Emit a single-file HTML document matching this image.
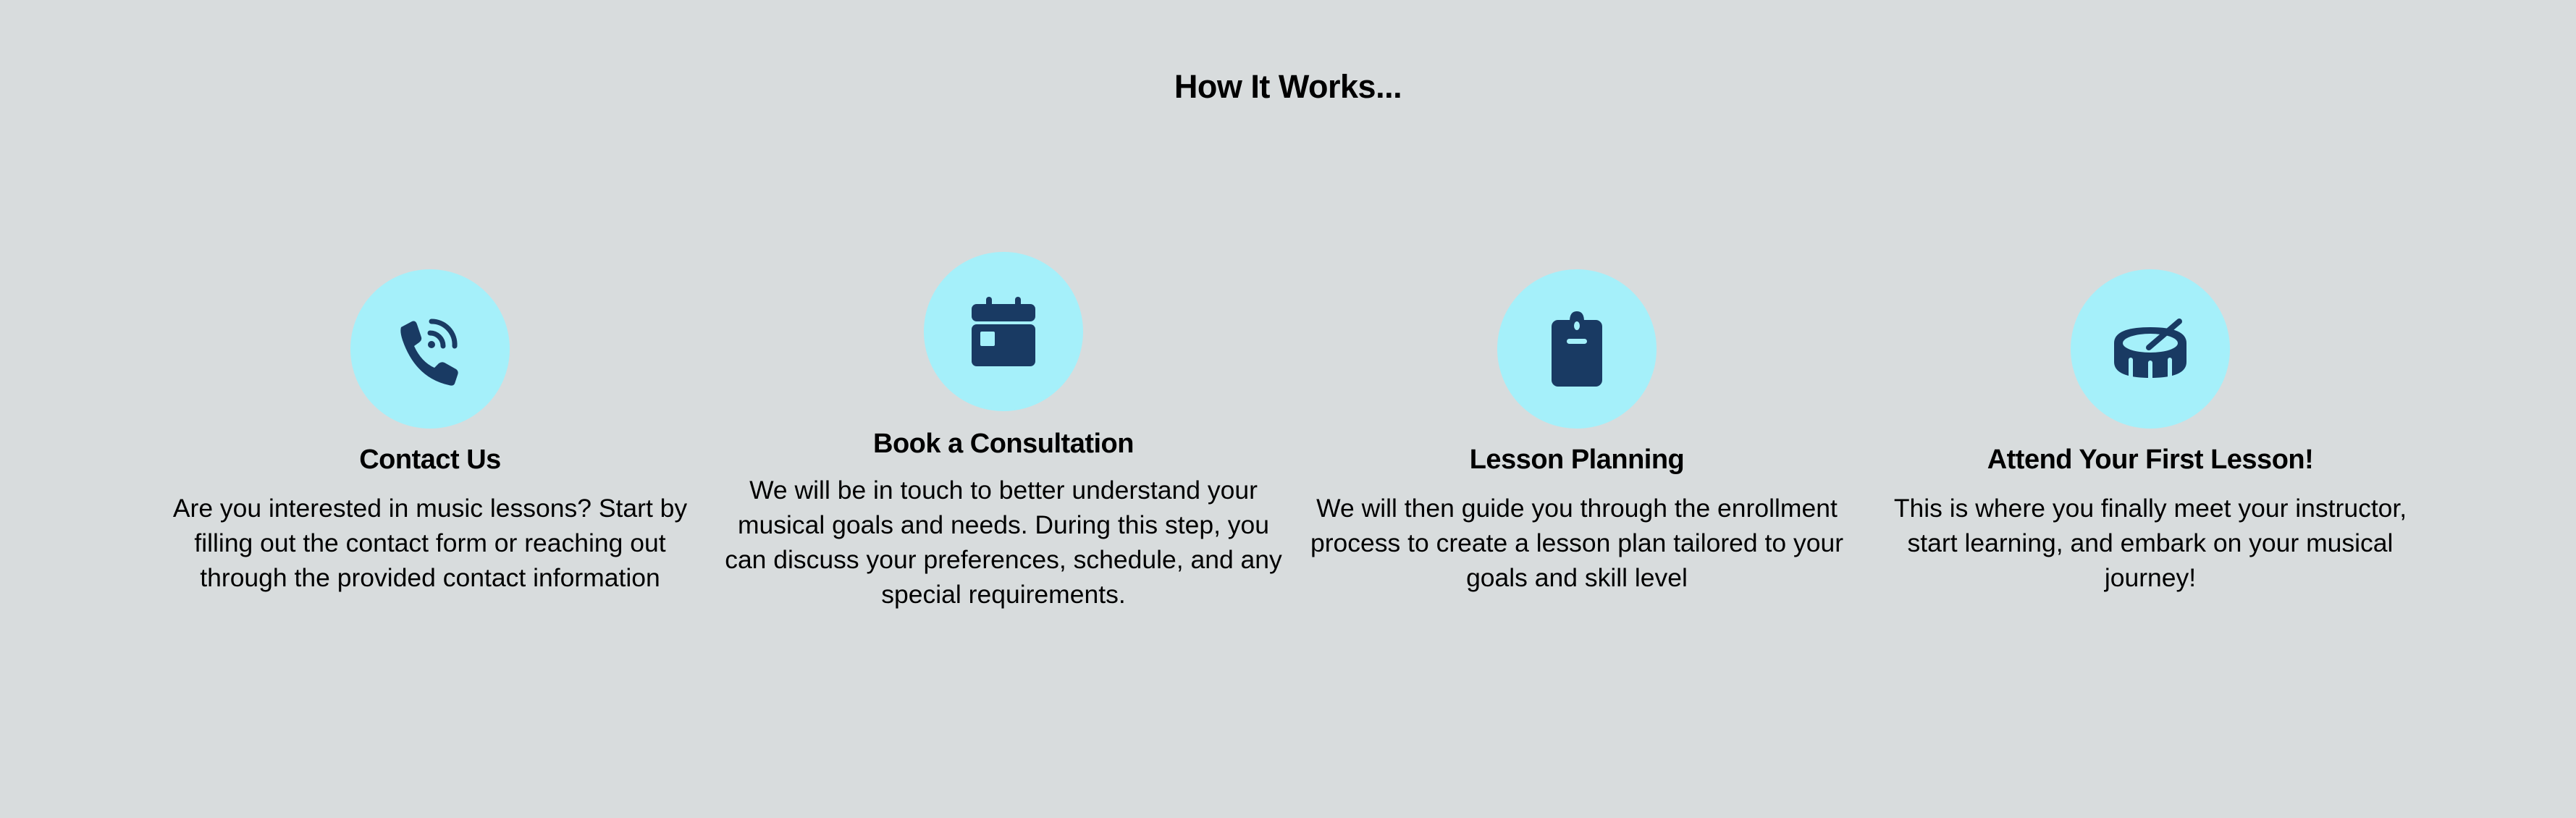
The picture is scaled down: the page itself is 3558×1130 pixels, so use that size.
<!DOCTYPE html>
<html><head><meta charset="utf-8"><style>
html,body{margin:0;padding:0}
body{width:3558px;height:1130px;background:#d8dcdd;font-family:"Liberation Sans",sans-serif;color:#000;position:relative;overflow:hidden}
.title{position:absolute;left:0;width:3558px;top:94px;text-align:center;font-weight:bold;font-size:45px;letter-spacing:-0.5px}
.step{position:absolute;width:800px;text-align:center}
.circle{position:absolute;width:220px;height:220px;border-radius:50%;background:#a5f0fa;left:290px}
.circle svg{position:absolute;left:50px;top:50px;width:120px;height:120px}
.step h3{position:absolute;left:0;width:800px;margin:0;font-size:38px;font-weight:bold;letter-spacing:-0.5px}
.step p{position:absolute;left:0;width:800px;margin:0;font-size:35.5px;line-height:48px}
</style></head><body>
<div class="title">How It Works...</div>

<div class="step" style="left:194px;top:0">
  <div class="circle" style="top:372px">
    <svg viewBox="0 0 120 120">
      <path d="M20 30 L35 22 Q40 20 42 26 L48 44 Q49 48 45 51 L38 56 Q48 78 66 86 L72 80 Q76 77 80 79 L96 88 Q100 91 98 96 L94 108 Q92 112 86 110 Q40 100 22 48 Q18 36 20 30Z" fill="#193a63"/>
      <circle cx="62" cy="54" r="5" fill="#193a63"/>
      <path d="M60 38 A18 18 0 0 1 78 56" stroke="#193a63" stroke-width="7" fill="none" stroke-linecap="round"/>
      <path d="M62 22 A32 32 0 0 1 94 56" stroke="#193a63" stroke-width="7" fill="none" stroke-linecap="round"/>
    </svg>
  </div>
  <h3 style="top:614px">Contact Us</h3>
  <p style="top:678px">Are you interested in music lessons? Start by<br>filling out the contact form or reaching out<br>through the provided contact information</p>
</div>

<div class="step" style="left:986px;top:0">
  <div class="circle" style="top:348px">
    <svg viewBox="0 0 120 120">
      <rect x="36" y="12" width="8" height="18" rx="4" fill="#193a63"/>
      <rect x="76" y="12" width="8" height="18" rx="4" fill="#193a63"/>
      <rect x="16" y="22" width="88" height="24" rx="7" fill="#193a63"/>
      <rect x="16" y="50" width="88" height="58" rx="7" fill="#193a63"/>
      <rect x="28" y="60" width="20" height="20" rx="2" fill="#a5f0fa"/>
    </svg>
  </div>
  <h3 style="top:592px">Book a Consultation</h3>
  <p style="top:653px">We will be in touch to better understand your<br>musical goals and needs. During this step, you<br>can discuss your preferences, schedule, and any<br>special requirements.</p>
</div>

<div class="step" style="left:1778px;top:0">
  <div class="circle" style="top:372px">
    <svg viewBox="0 0 120 120">
      <path d="M50 22 Q50 8 60 8 Q70 8 70 22Z" fill="#193a63"/>
      <rect x="25" y="20" width="70" height="92" rx="9" fill="#193a63"/>
      <ellipse cx="60" cy="28" rx="4" ry="6" fill="#a5f0fa"/>
      <rect x="46" y="46" width="28" height="7" rx="3.5" fill="#a5f0fa"/>
    </svg>
  </div>
  <h3 style="top:614px">Lesson Planning</h3>
  <p style="top:678px">We will then guide you through the enrollment<br>process to create a lesson plan tailored to your<br>goals and skill level</p>
</div>

<div class="step" style="left:2570px;top:0">
  <div class="circle" style="top:372px">
    <svg viewBox="0 0 120 120">
      <path d="M10 52 Q10 30 60 30 Q110 30 110 52 L110 78 Q110 100 60 100 Q10 100 10 78Z" fill="#193a63"/>
      <ellipse cx="60" cy="52" rx="38" ry="13" fill="#a5f0fa"/>
      <rect x="30" y="72" width="6" height="30" rx="3" fill="#a5f0fa"/>
      <rect x="57" y="76" width="6" height="30" rx="3" fill="#a5f0fa"/>
      <rect x="84" y="72" width="6" height="30" rx="3" fill="#a5f0fa"/>
      <path d="M58 58 L100 22" stroke="#193a63" stroke-width="8" stroke-linecap="round"/>
    </svg>
  </div>
  <h3 style="top:614px">Attend Your First Lesson!</h3>
  <p style="top:678px">This is where you finally meet your instructor,<br>start learning, and embark on your musical<br>journey!</p>
</div>
</body></html>
